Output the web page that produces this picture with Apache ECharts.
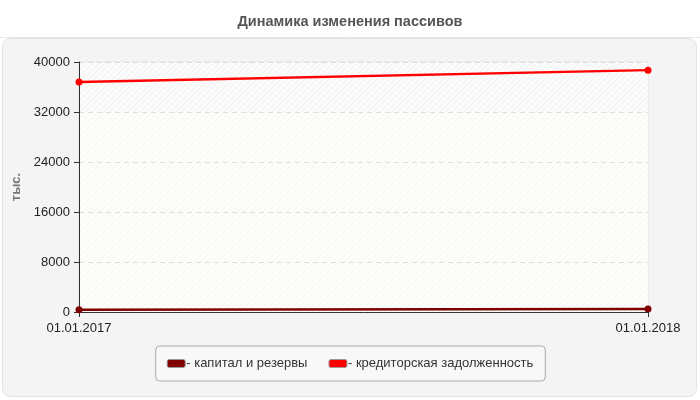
<!DOCTYPE html>
<html><head><meta charset="utf-8">
<script src="https://cdn.jsdelivr.net/npm/echarts@6/dist/echarts.min.js"></script>
<style>html,body{margin:0;padding:0;background:#fff}#c{width:700px;height:400px}</style>
</head><body><div id="c"></div>
<script>
var categories = ['01.01.2017', '01.01.2018'];
var capital = [350, 500];
var payables = [36800, 38700];
var seriesNames = ['- капитал и резервы', '- кредиторская задолженность'];
var yTicks = [0, 8000, 16000, 24000, 32000, 40000];

function hatch(bg, line) {
  var c = document.createElement('canvas');
  c.width = 6; c.height = 6;
  var g = c.getContext('2d');
  g.fillStyle = bg; g.fillRect(0, 0, 6, 6);
  g.strokeStyle = line; g.lineWidth = 1;
  g.beginPath(); g.moveTo(0, 6); g.lineTo(6, 0); g.stroke();
  g.beginPath(); g.moveTo(-1, 1); g.lineTo(1, -1); g.stroke();
  g.beginPath(); g.moveTo(5, 7); g.lineTo(7, 5); g.stroke();
  return { image: c, repeat: 'repeat' };
}
var patA = hatch('#fdfdf9', '#f3f3ef');
var patB = hatch('#fbfbfb', '#efefef');

var FF = 'Liberation Sans, Arial, sans-serif';
var chart = echarts.init(document.getElementById('c'), null, { renderer: 'canvas' });
chart.setOption({
  animation: false,
  textStyle: { fontFamily: FF },
  title: {
    text: 'Динамика изменения пассивов', left: 'center', top: 9,
    textStyle: { fontSize: 14.5, fontWeight: 'bold', color: '#555', fontFamily: FF }
  },
  graphic: [
    { type: 'line', z: -2, shape: { x1: 0, y1: 37.5, x2: 700, y2: 37.5 }, style: { stroke: '#e6e6e6', lineWidth: 1 } },
    { type: 'rect', z: -1, shape: { x: 2.5, y: 38.5, width: 694, height: 358, r: 8 },
      style: { fill: '#f4f4f4', stroke: '#e2e2e2', lineWidth: 1 } }
  ],
  legend: {
    top: 346, left: 'center',
    data: seriesNames,
    backgroundColor: '#f8f8f8', borderColor: '#aaa', borderWidth: 1, borderRadius: 4,
    padding: [11, 12, 11, 11], itemGap: 21,
    itemWidth: 18, itemHeight: 8, icon: 'roundRect',
    itemStyle: { borderColor: '#999', borderWidth: 1 },
    textStyle: { fontSize: 13, color: '#333', padding: [0, 0, 0, -4] }
  },
  grid: { left: 79, right: 52, top: 62, bottom: 88, show: true, borderColor: '#e0e0e0', borderWidth: 1, backgroundColor: 'transparent' },
  xAxis: {
    type: 'category', data: categories, boundaryGap: false,
    axisLine: { lineStyle: { color: '#333', width: 1 } },
    axisTick: { show: true, alignWithLabel: true, length: 5, lineStyle: { color: '#333' } },
    axisLabel: { color: '#222', fontSize: 13, margin: 10 },
    splitLine: { show: false }
  },
  yAxis: {
    type: 'value', min: yTicks[0], max: yTicks[yTicks.length - 1], interval: 8000,
    name: 'тыс.', nameLocation: 'middle', nameGap: 54, nameRotate: 90,
    nameTextStyle: { color: '#777', fontSize: 13, fontWeight: 'bold' },
    axisLine: { show: true, lineStyle: { color: '#333', width: 1 } },
    axisTick: { show: true, length: 5, lineStyle: { color: '#333' } },
    axisLabel: { color: '#222', fontSize: 13, margin: 9, formatter: function (v) { return String(v); } },
    splitLine: { show: true, lineStyle: { color: '#ddd', type: [5, 4] } },
    splitArea: { show: true, areaStyle: { color: [patA, patA, patA, patA, patB] } }
  },
  series: [
    { name: seriesNames[0], type: 'line', data: capital, symbol: 'circle', symbolSize: 7, showAllSymbol: true,
      itemStyle: { color: '#800000' }, lineStyle: { width: 2.5, color: '#800000' } },
    { name: seriesNames[1], type: 'line', data: payables, symbol: 'circle', symbolSize: 7, showAllSymbol: true,
      itemStyle: { color: '#ff0000' }, lineStyle: { width: 2.5, color: '#ff0000' } }
  ]
});
</script></body></html>
